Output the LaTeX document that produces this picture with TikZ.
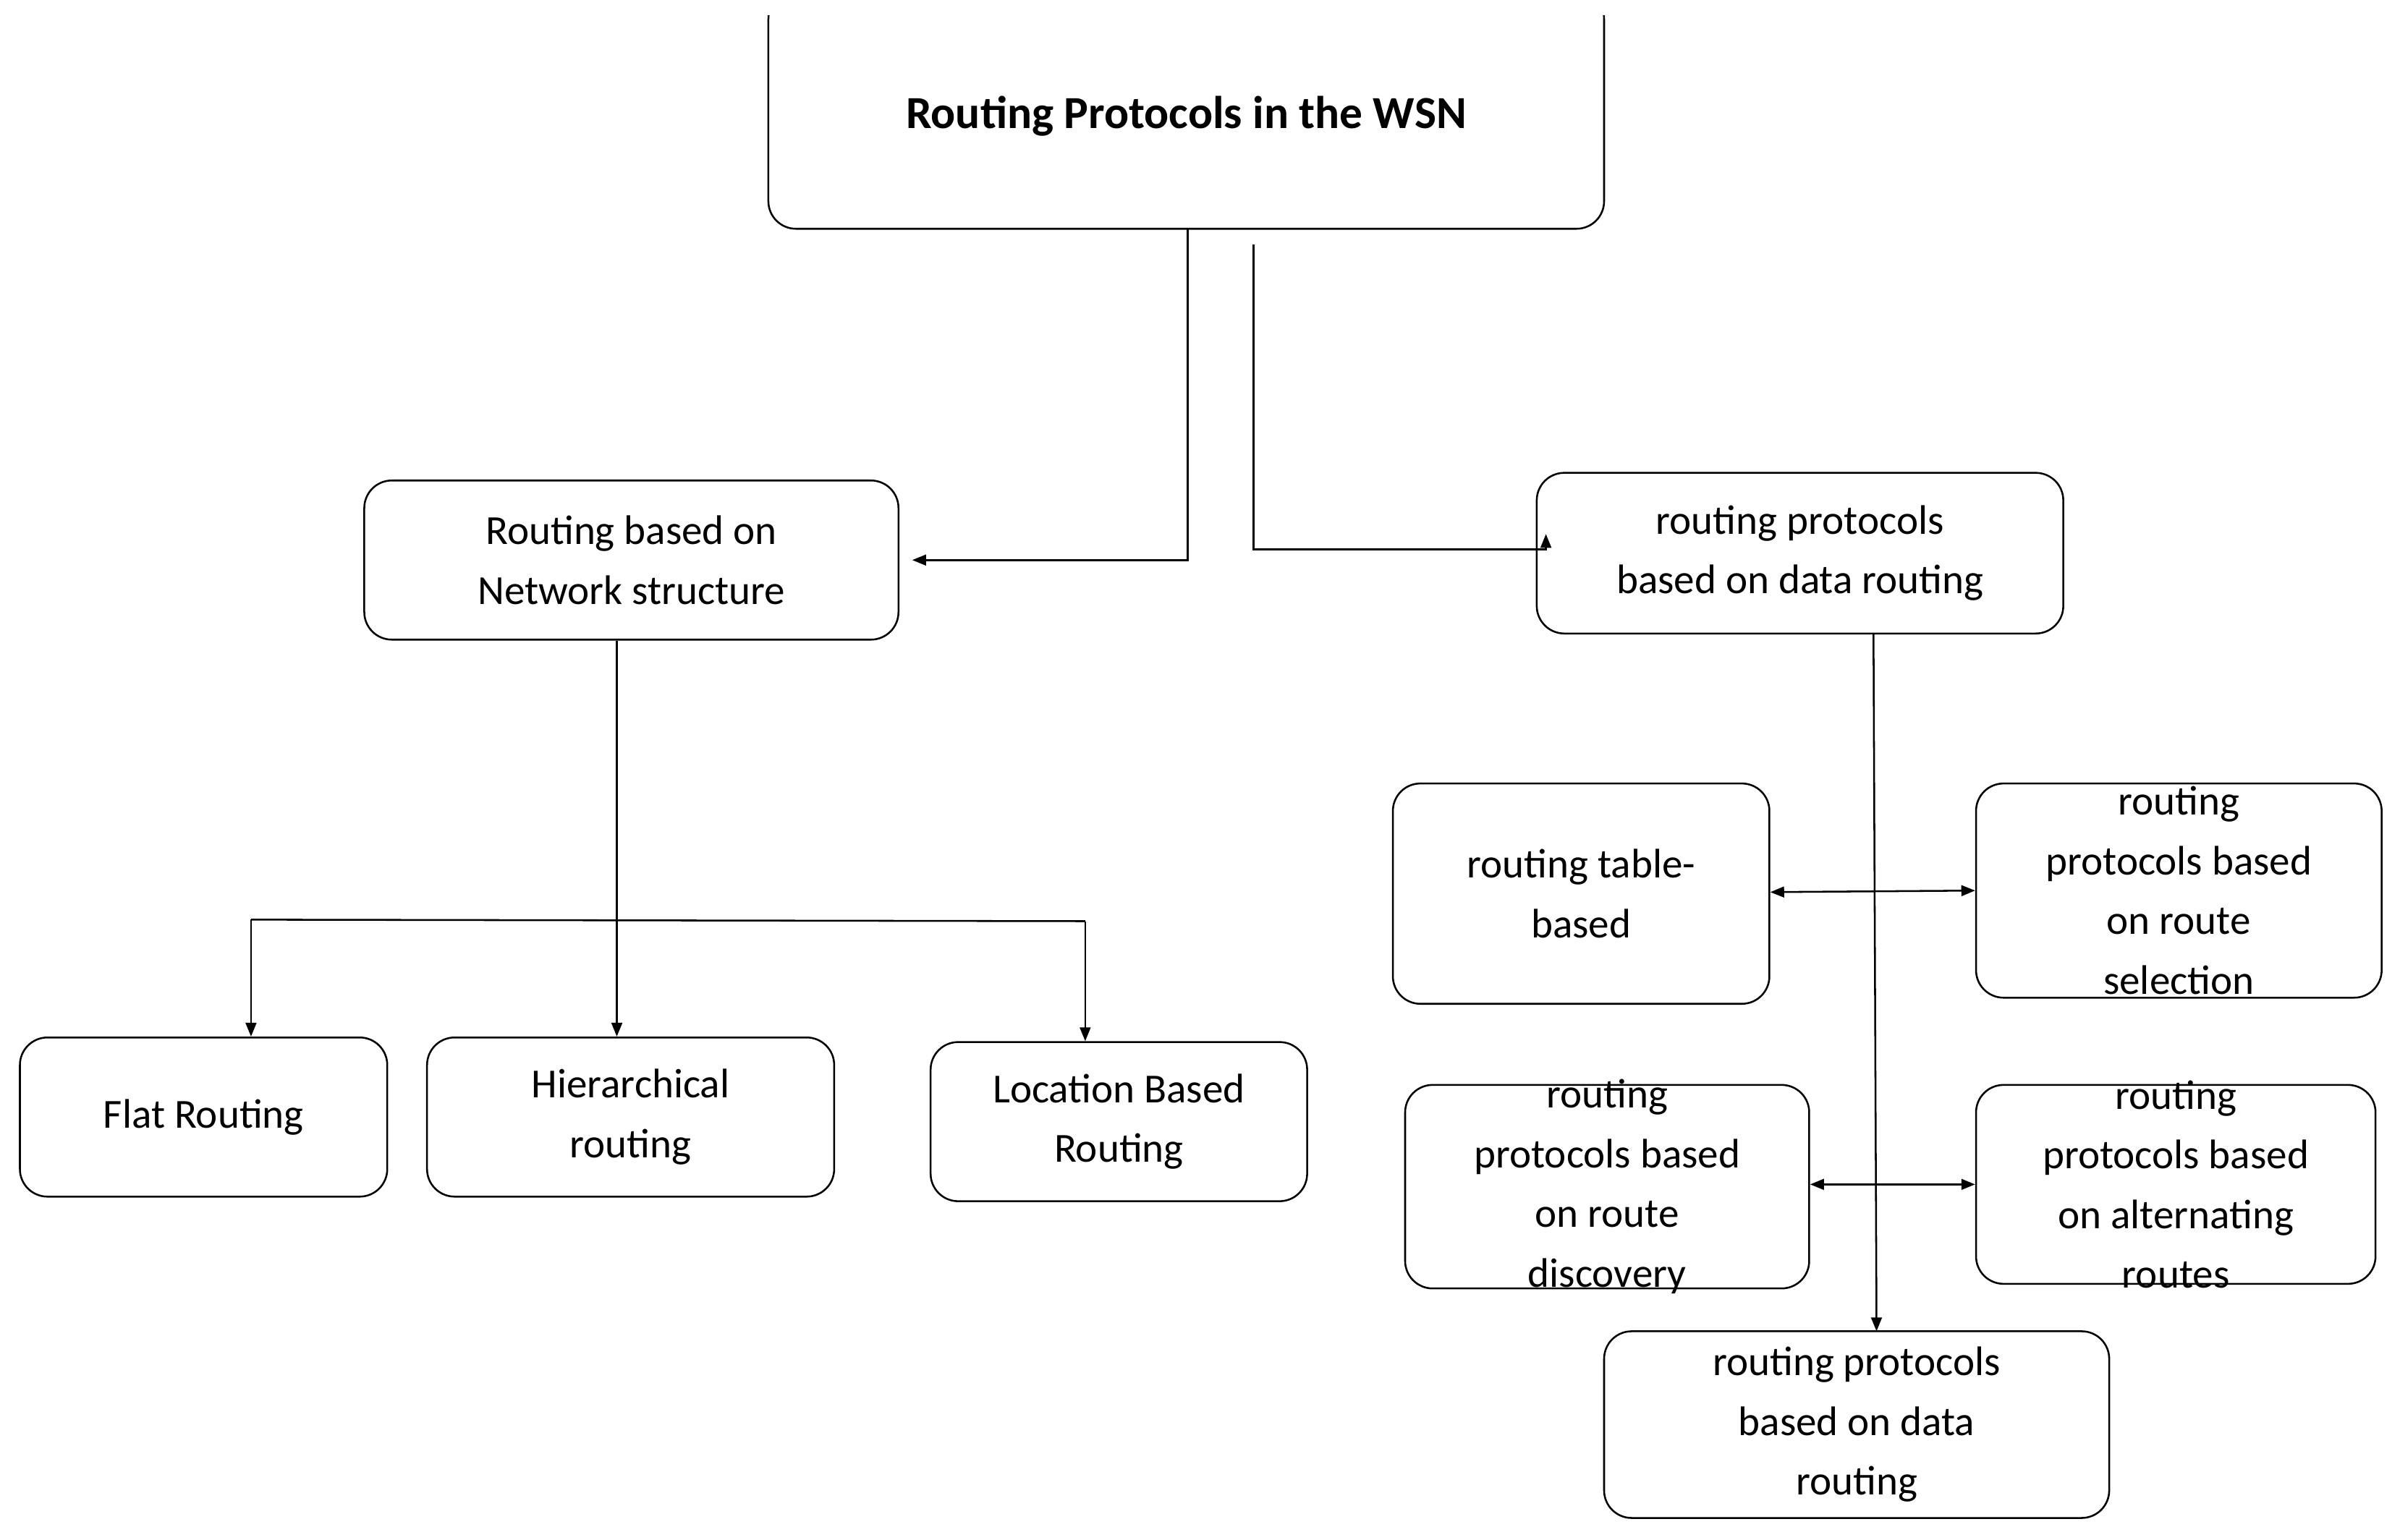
\documentclass[tikz,border=0pt]{standalone}
\usepackage{fontspec}
\setmainfont{Carlito}
\usetikzlibrary{arrows.meta}
\begin{document}
\begin{tikzpicture}[x=1pt,y=-1pt,
  box/.style={draw,line width=1.2pt,rounded corners=18pt,inner sep=0pt},
  txt/.style={align=center,font=\fontsize{27}{39}\selectfont,inner sep=0pt},
  con/.style={line width=1.2pt},
  arr/.style={con,-{Triangle[length=9pt,width=7pt]}},
  darr/.style={con,{Triangle[length=9pt,width=7pt]}-{Triangle[length=9pt,width=7pt]}}]
\useasboundingbox (0,0) rectangle (1568,1006);
\newcommand{\bx}[6]{\node[box,minimum width={#4-#2},minimum height={#5-#3}] (#1) at ({(#2+#4)/2},{(#3+#5)/2}) {};
  \node[txt] (#1t) at (#1) {#6};}
\begin{scope}
\clip (0,10) rectangle (1568,1006);
\node[box,minimum width=546,minimum height=155] (title) at (775,72) {};
\end{scope}
\node[txt,font=\fontsize{30}{36}\selectfont\bfseries] (titlet) at (775,76) {Routing Protocols in the WSN};
\bx{net}{238}{314}{587}{418}{Routing based on\\Network structure}
\bx{data}{1004}{309}{1348}{414}{routing protocols\\based on data routing}
\bx{flat}{13}{678}{253}{782}{Flat Routing}
\bx{hier}{279}{678}{545}{782}{Hierarchical\\routing}
\bx{loc}{608}{681}{854}{785}{Location Based\\Routing}
\bx{tab}{910}{512}{1156}{656}{routing table-\\based}
\bx{sel}{1291}{512}{1556}{652}{routing\\protocols based\\on route\\selection}
\bx{disc}{918}{709}{1182}{842}{routing\\protocols based\\on route\\discovery}
\bx{alt}{1291}{709}{1552}{839}{routing\\protocols based\\on alternating\\routes}
\bx{bot}{1048}{870}{1378}{992}{routing protocols\\based on data\\routing}
\coordinate (t1) at (776,150);
\coordinate (t2) at (819,160);
\draw[arr] (t1) |- (596,366);
\draw[arr] (t2) |- (1010,359) -- ++(0,-10);
\draw[arr] (net.south -| 403,0) -- (hier.north -| 403,0);
\coordinate (h1) at (164,601);
\coordinate (h2) at (709,602);
\draw[con] (h1) -- (h2);
\draw[arr] (h1) -- (flat.north -| h1);
\draw[arr] (h2) -- (loc.north -| h2);
\draw[arr] (1224,414) -- (1226,870);
\draw[darr] (tab.east |- 0,583) -- (sel.west |- 0,582);
\draw[darr] (disc.east |- 0,774) -- (alt.west |- 0,774);
\end{tikzpicture}
\end{document}
